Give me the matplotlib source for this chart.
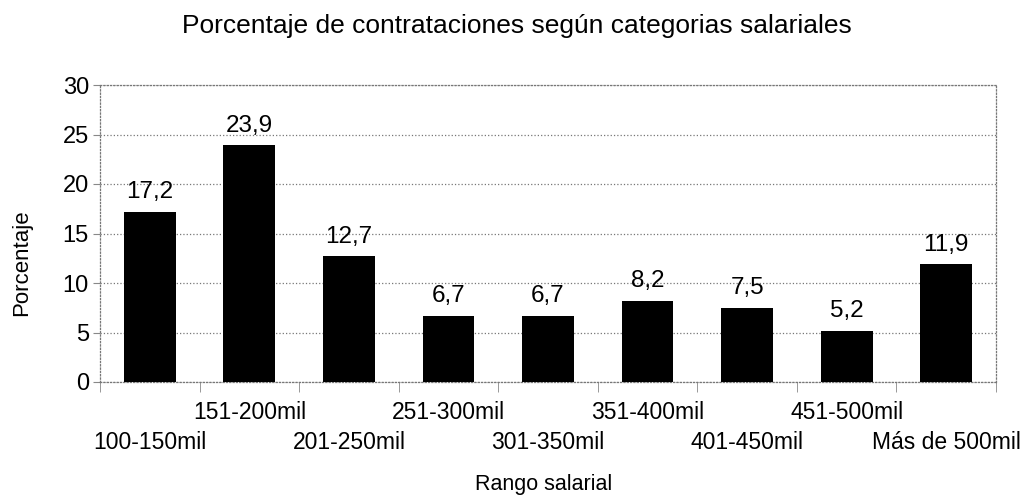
import matplotlib
matplotlib.use("Agg")
import matplotlib.pyplot as plt
import numpy as np

plt.rcParams['font.family'] = ['Liberation Sans', 'DejaVu Sans']

categorias = ["100-150mil", "151-200mil", "201-250mil", "251-300mil", "301-350mil",
              "351-400mil", "401-450mil", "451-500mil", "Más de 500mil"]
porcentajes = [17.2, 23.9, 12.7, 6.7, 6.7, 8.2, 7.5, 5.2, 11.9]
y_ticks = [0, 5, 10, 15, 20, 25, 30]

fig = plt.figure(figsize=(10.27, 4.95), dpi=100)
ax = fig.add_axes([100 / 1027, 1 - 382 / 495, 896 / 1027, 297 / 495])

x = np.arange(len(categorias))
ax.bar(x, porcentajes, width=0.52, color='black', zorder=3)

for xi, v in zip(x, porcentajes):
    ax.annotate(f"{v:.1f}".replace(".", ","), (xi, v), xytext=(0, 6),
                textcoords="offset points", ha='center', va='bottom', fontsize=17.5)

ax.set_xlim(-0.5, len(categorias) - 0.5)
ax.set_ylim(0, 30)
ax.set_yticks(y_ticks)
ax.tick_params(axis='y', labelsize=17, length=5, color='#888888', pad=3)
ax.yaxis.grid(True, linestyle=':', color='#777777', linewidth=0.9, zorder=0)

# category labels staggered in two rows
ax.set_xticks(x)
ax.set_xticklabels(categorias, fontsize=16.5)
ax.tick_params(axis='x', which='major', length=0)
for i, t in enumerate(ax.xaxis.get_major_ticks()):
    t.set_pad(14 if i % 2 == 1 else 35)
ax.set_xticks(np.arange(-0.5, len(categorias), 1.0), minor=True)
ax.tick_params(axis='x', which='minor', length=7, color='#888888', direction='out')

for s in ax.spines.values():
    s.set_linestyle(':')
    s.set_color('#777777')
    s.set_linewidth(0.9)

fig.text(517 / 1027, 1 - 33 / 495, "Porcentaje de contrataciones según categorias salariales",
         ha='center', va='baseline', fontsize=19)
fig.text(544 / 1027, 1 - 490 / 495, "Rango salarial", ha='center', va='baseline', fontsize=15.5)
fig.text(22 / 1027, 1 - 263 / 495, "Porcentaje", ha='center', va='center', rotation=90, fontsize=16)

fig.savefig("out.png", dpi=100)
